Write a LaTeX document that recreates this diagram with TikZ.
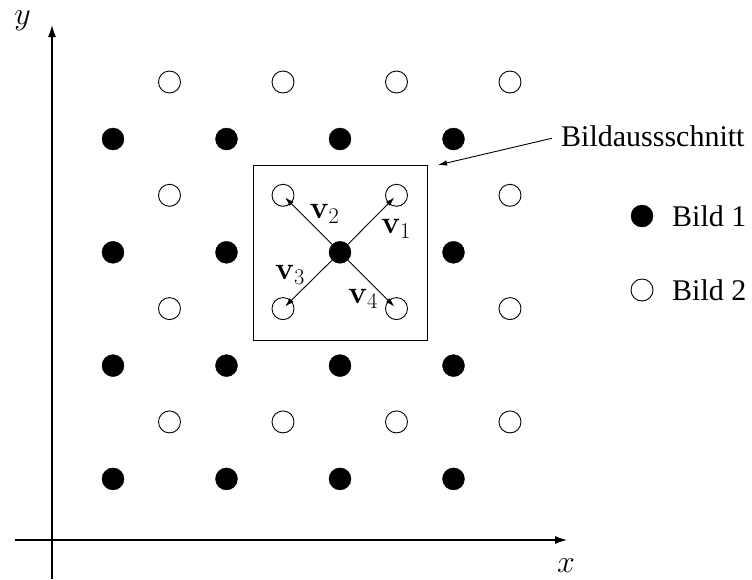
\RequirePackage{fix-cm}
\documentclass[tikz,border=0pt]{standalone}
\usepackage[no-math]{fontspec}
\setmainfont{Liberation Serif}
\usetikzlibrary{arrows.meta,calc}
\begin{document}
\begin{tikzpicture}[x=1pt,y=-1pt,
  full/.style={circle,fill=black,draw=black,inner sep=0pt,minimum size=22pt},
  hollow/.style={circle,draw=black,line width=0.9pt,fill=white,inner sep=0pt,minimum size=22pt},
  axis/.style={line width=1.2pt,-{Latex[length=12pt,width=8pt]}},
  vec/.style={line width=0.9pt,-{Latex[length=9pt,width=5.5pt]}},
  lbl/.style={font=\fontsize{30}{36}\selectfont,inner sep=0pt},
  mlbl/.style={font=\fontsize{32}{38}\selectfont,inner sep=0pt}]
\useasboundingbox (0,0) rectangle (752,579);

% coordinate axes
\coordinate (xs) at (15,540);
\coordinate (xe) at (567,540);
\coordinate (ys) at (52,579);
\coordinate (ye) at (52,25);
\draw[axis] (xs) -- (xe);
\draw[axis] (ys) -- (ye);
\node[mlbl] (ylab) at (22.5,21) {$y$};
\node[mlbl] (xlab) at (566,566) {$x$};

% image window
\node[draw,line width=0.8pt,minimum width=174pt,minimum height=175pt,inner sep=0pt] (win) at (340,252.5) {};

% two interleaved lattices
\foreach \i in {0,...,3}
  \foreach \j in {0,...,3} {
    \node[full]   (f\i\j) at (113+113.5*\i, 139+113.3*\j) {};
    \node[hollow] (h\i\j) at (169.5+113.5*\i, 82+113.3*\j) {};
  }

% displacement vectors
\draw[vec,shorten >=3pt] (f21) -- (h21.center);
\draw[vec,shorten >=3pt] (f21) -- (h11.center);
\draw[vec,shorten >=3pt] (f21) -- (h12.center);
\draw[vec,shorten >=3pt] (f21) -- (h22.center);
\node[mlbl] (v1) at (396,229) {$\mathbf{v}_1$};
\node[mlbl] (v2) at (324.5,214) {$\mathbf{v}_2$};
\node[mlbl] (v3) at (290,275) {$\mathbf{v}_3$};
\node[mlbl] (v4) at (363,299) {$\mathbf{v}_4$};

% annotation
\node[lbl,anchor=base west] (ann) at (561,146) {Bildaussschnitt};
\coordinate (annend) at (438,165);
\draw[vec] ($(ann.west)+(-9,2.5)$) -- (annend);

% legend
\node[full]   (k1) at (642,216) {};
\node[hollow] (k2) at (642,290) {};
\node[lbl,anchor=base west] (t1) at (672,226) {Bild 1};
\node[lbl,anchor=base west] (t2) at (672,300) {Bild 2};
\end{tikzpicture}
\end{document}
